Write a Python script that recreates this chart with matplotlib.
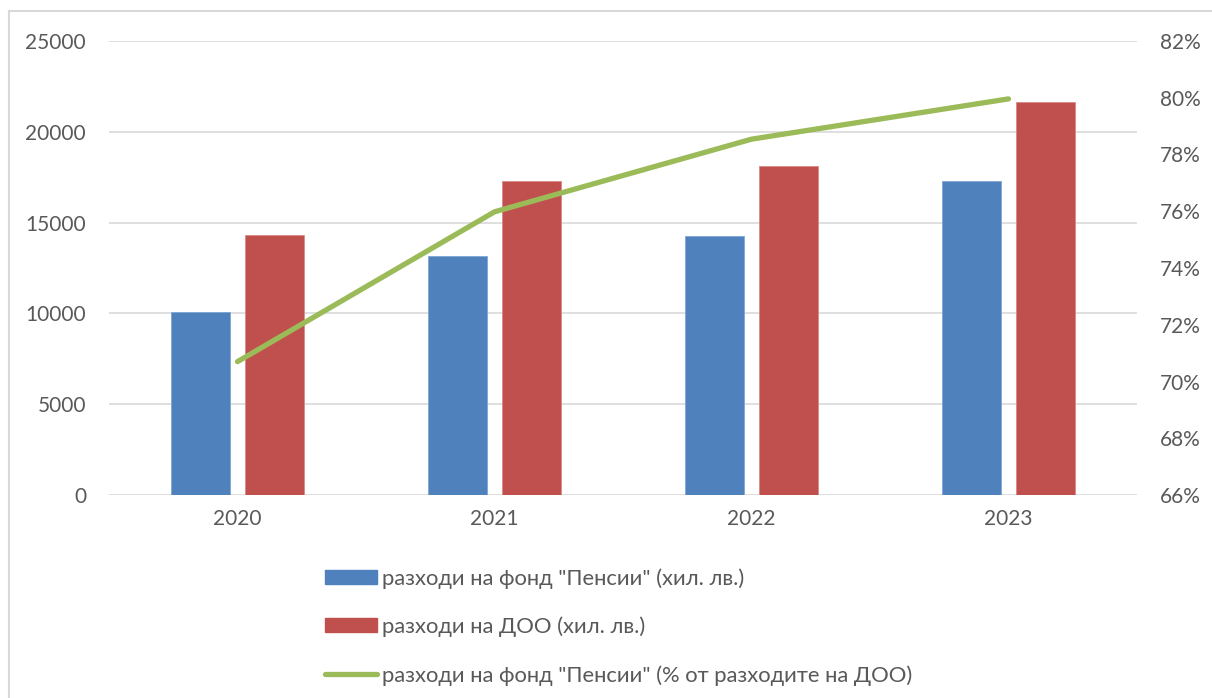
import numpy as np
import matplotlib
matplotlib.use("Agg")
import matplotlib.pyplot as plt
from matplotlib.lines import Line2D

plt.rcParams['font.family'] = ['Lato', 'DejaVu Sans']

years = ['2020', '2021', '2022', '2023']
pension_exp = [10090, 13140, 14260, 17280]      # хил. лв.
doo_exp = [14300, 17300, 18110, 21620]          # хил. лв.
pension_share = [70.70, 75.98, 78.54, 79.96]    # %

lbl_pension = 'разходи на фонд "Пенсии" (хил. лв.)'
lbl_doo = 'разходи на ДОО (хил. лв.)'
lbl_share = 'разходи на фонд "Пенсии" (% от разходите на ДОО)'

blue = '#4F81BD'
red = '#C0504D'
green = '#9BBB59'
txt = '#595959'
grid = '#D9D9D9'

W, H = 1212, 698
fig = plt.figure(figsize=(W / 100, H / 100), dpi=100)
ax = fig.add_axes([109 / W, 1 - 495 / H, (1137 - 109) / W, (495 - 41) / H])

x = np.arange(len(years))
bw = 0.226
off = 0.144
ax.bar(x - off, pension_exp, bw, color=blue, edgecolor='#7FA6D6', linewidth=0.6,
       label=lbl_pension, zorder=2)
ax.bar(x + off, doo_exp, bw, color=red, edgecolor='#D98A88', linewidth=0.6,
       label=lbl_doo, zorder=2)

ax.set_xlim(-0.5, len(years) - 0.5)
ax.set_ylim(0, 25000)
ax.set_yticks(range(0, 25001, 5000))
ax.set_xticks(x)
ax.set_xticklabels(years)
ax.grid(axis='y', color=grid, linewidth=1.2, zorder=0)
for s in ax.spines.values():
    s.set_visible(False)
ax.tick_params(axis='both', length=0, colors=txt, labelsize=15)
ax.tick_params(axis='y', pad=16.5)
ax.tick_params(axis='x', pad=10)

ax2 = ax.twinx()
ax2.plot(x, pension_share, color=green, linewidth=3.8, solid_capstyle='round',
         label=lbl_share, zorder=3)
ax2.set_ylim(66, 82)
ax2.set_yticks(range(66, 83, 2))
ax2.set_yticklabels([f'{v}%' for v in range(66, 83, 2)])
for s in ax2.spines.values():
    s.set_visible(False)
ax2.tick_params(axis='y', length=0, colors=txt, labelsize=15, pad=16.5)

# chart area border (left and top edges visible)
fig.add_artist(Line2D([9 / W, 9 / W], [0, 1 - 11 / H], transform=fig.transFigure,
                      color='#D9D9D9', linewidth=1.5))
fig.add_artist(Line2D([9 / W, 1], [1 - 11 / H, 1 - 11 / H], transform=fig.transFigure,
                      color='#D9D9D9', linewidth=1.5))

handles = [
    plt.Rectangle((0, 0), 1, 1, color=blue),
    plt.Rectangle((0, 0), 1, 1, color=red),
    Line2D([0], [0], color=green, linewidth=3.8, solid_capstyle='round'),
]
leg = fig.legend(handles, [lbl_pension, lbl_doo, lbl_share],
                 loc='upper left', bbox_to_anchor=(325 / W, 1 - 568 / H),
                 frameon=False, fontsize=15.8, labelspacing=1.27,
                 handlelength=2.35, handleheight=0.6, handletextpad=0.27,
                 borderaxespad=0, borderpad=0)
for t in leg.get_texts():
    t.set_color(txt)

fig.savefig('out.png', dpi=100, facecolor='white')
